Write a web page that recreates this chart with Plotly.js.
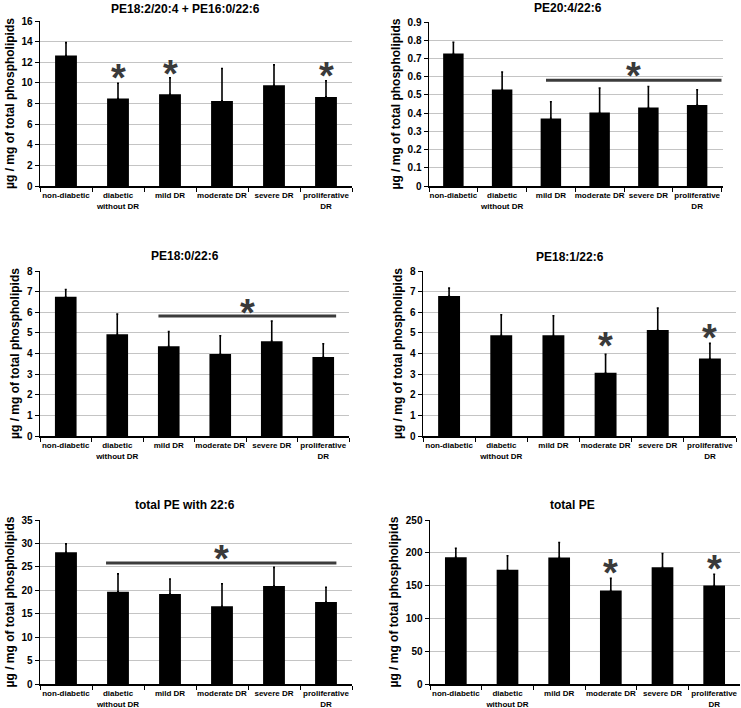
<!DOCTYPE html>
<html><head><meta charset="utf-8">
<script src="https://cdn.plot.ly/plotly-3.0.1.min.js"></script>
<style>html,body{margin:0;padding:0;background:#fff}#chart{width:741px;height:708px}</style>
</head><body><div id="chart"></div>
<script>
const categories = ['non-diabetic','diabetic<br>without DR','mild DR','moderate DR','severe DR','proliferative<br>DR'];
const panelTitles = ['PE18:2/20:4 + PE16:0/22:6','PE20:4/22:6','PE18:0/22:6','PE18:1/22:6','total PE with 22:6','total PE'];

const means1 = [12.65, 8.48, 8.9, 8.25, 9.77, 8.64];
const sd1    = [1.25, 1.49, 1.6, 3.15, 1.98, 1.56];
const means2 = [0.727, 0.529, 0.371, 0.403, 0.431, 0.444];
const sd2    = [0.062, 0.097, 0.091, 0.134, 0.115, 0.084];
const means3 = [6.75, 4.93, 4.35, 3.97, 4.6, 3.83];
const sd3    = [0.35, 0.98, 0.71, 0.89, 0.97, 0.64];
const means4 = [6.79, 4.88, 4.88, 3.07, 5.14, 3.76];
const sd4    = [0.38, 1.0, 0.95, 0.89, 1.06, 0.73];
const means5 = [28.1, 19.7, 19.2, 16.6, 20.9, 17.5];
const sd5    = [1.8, 3.8, 3.2, 4.8, 4.0, 3.15];
const means6 = [193.4, 174.2, 193.0, 142.4, 177.8, 150.0];
const sd6    = [13.6, 21.3, 22.7, 18.6, 21.2, 17.2];

const yMax   = [16, 0.9, 8, 8, 35, 250];
const yDtick = [2, 0.1, 1, 1, 5, 50];

// significance: single stars above bars (category index, y)
const starIdx = [[1,2,5],[],[],[3,5],[],[3,5]];
const starY   = [[11.1,11.4,11.25],[],[],[4.65,5.05],[],[179,184]];
// significance bracket lines [start index, end index, y], star over line
const sigLine = [null,[1.9,5.5,0.58],[1.8,5.25,5.82],null,[0.77,5.2,25.8],null];
const sigStarY = [null,0.635,6.27,null,27.9,null];

const allMeans = [means1,means2,means3,means4,means5,means6];
const allSd = [sd1,sd2,sd3,sd4,sd5,sd6];

// layout geometry (pixels)
const W=741,H=708;
const px = [[40,352],[429,723],[40,349],[423,736],[40,352],[430,740]];
const py = [[21,186],[22,186],[271,436],[271,436],[520,684],[520,684]];
const titleXY = [[185,9],[568,8],[185,256],[570,257],[185,505],[572,505]];

const FONT = 'Liberation Sans, Arial, sans-serif';
const traces=[], layout={width:W,height:H,margin:{l:0,r:0,t:0,b:0},showlegend:false,
  paper_bgcolor:'#fff',plot_bgcolor:'#fff',bargap:0.58,annotations:[],shapes:[],
  font:{family:FONT,color:'#000'}};
const starFont = {family:FONT,size:38,color:'#3a3a3a',weight:'bold'};

for(let i=0;i<6;i++){
  const s = i===0?'':String(i+1);
  traces.push({type:'bar',x:categories,y:allMeans[i],xaxis:'x'+s,yaxis:'y'+s,
    marker:{color:'#000',line:{width:0}},
    error_y:{type:'data',symmetric:false,array:allSd[i],arrayminus:allSd[i].map(()=>0),
      color:'#000',thickness:1.6,width:1},hoverinfo:'skip'});
  layout['xaxis'+s]={domain:[px[i][0]/W,px[i][1]/W],anchor:'y'+s,type:'category',
    showline:true,linecolor:'#000',linewidth:1.5,ticks:'outside',tickson:'boundaries',
    ticklen:4,tickcolor:'#000',tickwidth:1,showgrid:false,zeroline:false,ticklabelstandoff:1,
    tickfont:{family:FONT,size:8,color:'#000',weight:'bold'},fixedrange:true,tickangle:0};
  layout['yaxis'+s]={domain:[1-py[i][1]/H,1-py[i][0]/H],anchor:'x'+s,range:[0,yMax[i]],
    dtick:yDtick[i],tick0:0,showline:true,linecolor:'#000',linewidth:1.5,ticks:'outside',
    ticklen:4,tickcolor:'#000',tickwidth:1,showgrid:true,gridcolor:'#c4c4c4',gridwidth:1,
    zeroline:false,tickfont:{family:FONT,size:10,color:'#000',weight:'bold'},
    title:{text:'µg / mg of total phospholipids',font:{family:FONT,size:12,color:'#000',weight:'bold'},standoff:4},
    fixedrange:true};
  layout.annotations.push({xref:'paper',yref:'paper',x:titleXY[i][0]/W,y:1-titleXY[i][1]/H,
    text:panelTitles[i],showarrow:false,xanchor:'center',yanchor:'middle',
    font:{family:FONT,size:12,color:'#000',weight:'bold'}});
  starIdx[i].forEach((k,j)=>{
    layout.annotations.push({xref:'x'+s,yref:'y'+s,x:k,y:starY[i][j],text:'*',showarrow:false,
      xanchor:'center',yanchor:'middle',yshift:-6,font:starFont});
  });
  if(sigLine[i]){
    const L=sigLine[i];
    layout.shapes.push({type:'line',xref:'x'+s,yref:'y'+s,x0:L[0],x1:L[1],y0:L[2],y1:L[2],
      line:{color:'#3c3c3c',width:3}});
    layout.annotations.push({xref:'x'+s,yref:'y'+s,x:(L[0]+L[1])/2,y:sigStarY[i],text:'*',showarrow:false,
      xanchor:'center',yanchor:'middle',yshift:-6,font:starFont});
  }
}
Plotly.newPlot('chart',traces,layout,{staticPlot:true});
</script></body></html>
